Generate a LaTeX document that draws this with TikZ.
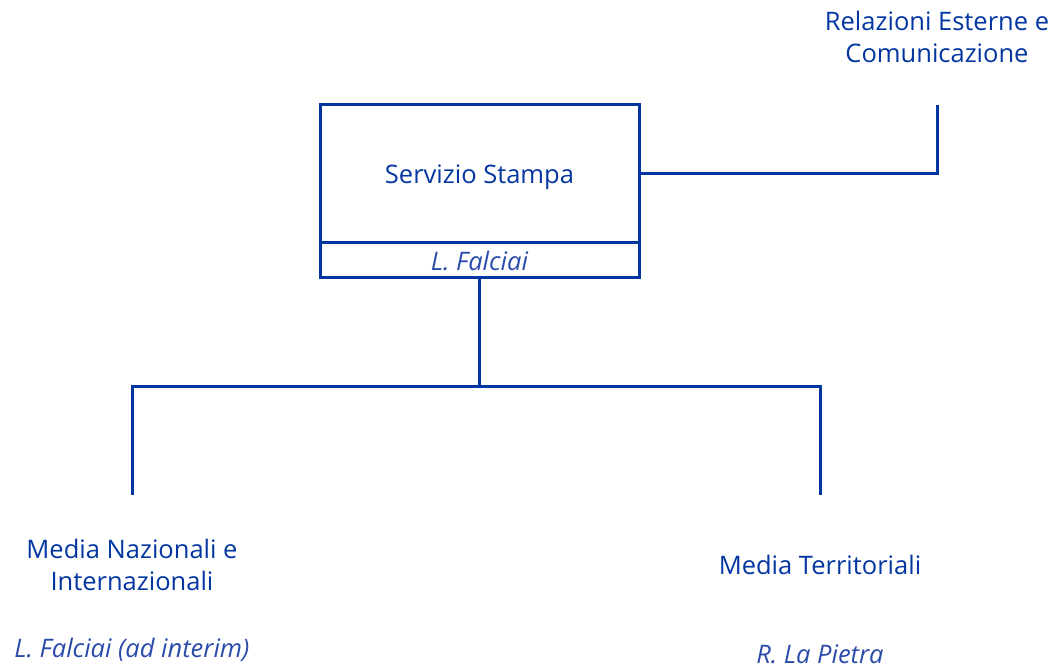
\documentclass[tikz,border=0pt]{standalone}
\usepackage{fontspec}
\setmainfont{Open Sans}
\usetikzlibrary{positioning}
\definecolor{orgblue}{HTML}{0336A0}
\definecolor{nameblue}{HTML}{2A4BAA}

\begin{document}
\begin{tikzpicture}[
		x=1pt, y=-1pt,
		unit/.style={draw=orgblue, line width=3pt, rectangle, minimum width=319pt, inner sep=0pt,
			text=orgblue, text depth=0pt, font=\fontsize{25.5}{32}\selectfont},
		label/.style={text=orgblue, align=center, inner sep=0pt, font=\fontsize{25.5}{32}\selectfont},
		person/.style={text=nameblue, inner sep=0pt, font=\fontsize{25.5}{32}\selectfont\itshape},
		link/.style={draw=orgblue, line width=3pt}
		]
		\useasboundingbox (0,0) rectangle (1053,668);
		% Servizio Stampa
		\node[unit, minimum height=138pt] (stampa) at (479.5,174) {Servizio Stampa};
		\node[unit, minimum height=35pt, below=-3pt of stampa, font=\fontsize{25.5}{32}\selectfont\itshape, text=nameblue] (falciai) {L. Falciai};
		
		% Relazioni Esterne e Comunicazione
		\node[label] (relazioni) at (937,37) {Relazioni Esterne e\\Comunicazione};
		\coordinate (relfoot) at (937,105);
		\draw[link] (stampa.east) -| (relfoot);
		
		% sottounita
		\coordinate (split) at (479.5,387);
		\coordinate (nazfoot) at (132,495);
		\coordinate (terfoot) at (820,495);
		\node[label] (nazionali) at (132,565) {Media Nazionali e\\Internazionali};
		\node[label] (territoriali) at (820,565) {Media Territoriali};
		\node[person] (nazname) at (132,650) {L. Falciai (ad interim)};
		\node[person] (tername) at (820,654) {R. La Pietra};
		\draw[link] (falciai.south) -- (split);
		\draw[link] (nazfoot) -- (nazfoot |- split) -- (terfoot |- split) -- (terfoot);
	\end{tikzpicture}
\end{document}
